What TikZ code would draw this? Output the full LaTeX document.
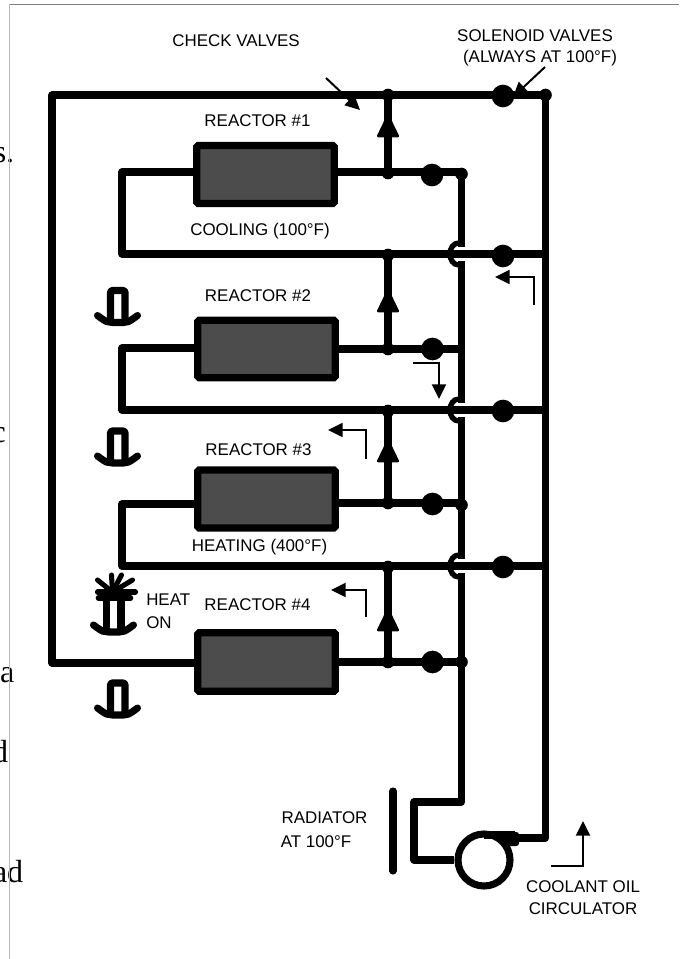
\documentclass[tikz,border=0pt]{standalone}
\usepackage{fontspec}
\setmainfont{Liberation Sans}
\newfontfamily\serifbody{Liberation Serif}
\usetikzlibrary{arrows.meta}
\tikzset{
  x=0.75pt,y=-0.75pt,
  pipe/.style={line width=5.3pt,line join=round,line cap=round},
  reactor/.style={draw=black,fill=black!70,line width=5.4pt,rounded corners=1pt,minimum width=103pt,inner sep=0pt},
  bigdot/.style={circle,fill=black,minimum size=17pt,inner sep=0pt},
  smalldot/.style={circle,fill=black,minimum size=9.5pt,inner sep=0pt},
  lab/.style={font=\fontsize{12.7pt}{14pt}\selectfont,inner sep=0pt,anchor=center},
  body/.style={font=\serifbody\fontsize{24pt}{28pt}\selectfont,inner sep=0pt,anchor=base east},
  flow/.style={line width=1.5pt,-{Triangle[length=11pt,width=10.5pt]}},
  hoparc/.style={line width=4pt,line cap=round},
  heater/.pic={
    \draw[line width=5.3pt,line join=round,rounded corners=1pt] (-7,32) -- (-7,0) -- (7.5,0) -- (7.5,32);
    \draw[line width=5.3pt,line cap=round] (-20,25) .. controls (-11,32) and (-9,32) .. (-5,32) -- (6,32) .. controls (9,32) and (11,32) .. (20,25);
  },
  flame/.pic={
    \draw[line width=5.3pt,line join=round] (-7,34) -- (-7,0) (7.5,0) -- (7.5,34);
    \draw[line width=5.3pt,line cap=round] (-20,27) .. controls (-11,34) and (-9,34) .. (-5,34) -- (6,34) .. controls (9,34) and (11,34) .. (20,27);
    \draw[line width=4.2pt,line cap=round] (-15,0) -- (17,0);
    \foreach \a/\b in {-16/-14,-2/-19,8/-19,19/-14,22/-2,-16/-2}
      \draw[line width=3.8pt,line cap=round] (-1,-6) -- (\a,\b-4);
  },
  checkv/.pic={
    \filldraw[line width=2pt,line join=round] (0,0) -- (-9.7,20) -- (9.7,20) -- cycle;
  },
}
\begin{document}
\begin{tikzpicture}
\useasboundingbox (0,0) rectangle (679,959);

% body text fragments
\node[body] (t1) at (14.5,163) {s.};
\node[body] (t2) at (6,442) {c};
\node[body] (t3) at (14.5,682) {a};
\node[body] (t4) at (8.5,762) {d};
\node[body] (t5) at (23.5,882) {ad};

\draw[black!50,line width=0.9pt] (9,4.5) -- (679,4.5);
\draw[black!28,line width=0.9pt] (9.5,4.5) -- (9.5,959);

% reactors
\node[reactor,minimum height=43.5pt] (R1) at (265.5,174.5) {};
\node[reactor,minimum height=43pt] (R2) at (266.5,349) {};
\node[reactor,minimum height=43.5pt] (R3) at (266.5,499) {};
\node[reactor,minimum height=44pt] (R4) at (266.5,662) {};

% junction points
\coordinate (tl) at (52,95);
\coordinate (bl) at (52,663);
\coordinate (tr) at (545.5,95);
\coordinate (br) at (545.5,838);
\foreach \n/\y in {a/95,b/254,c/410,d/566}{
  \coordinate (v\n) at (388,\y);
  \coordinate (e\n) at (545.5,\y);
}
\foreach \n/\y in {1/172,2/349,3/503,4/662}{
  \coordinate (w\n) at (388,\y);
  \coordinate (x\n) at (461.5,\y);
}
\coordinate (l1t) at (122,172);
\coordinate (l1b) at (122,254);
\coordinate (l2t) at (122,348);
\coordinate (l2b) at (122,410);
\coordinate (l3t) at (122,504);
\coordinate (l3b) at (122,566);
\coordinate (r1) at (461.5,802);
\coordinate (r2) at (414,802);
\coordinate (r3) at (414,860);
\node[circle,draw=black,line width=5.3pt,minimum size=39pt,inner sep=0pt] (pump) at (484,860) {};
\coordinate (po) at (518,838);

% pipes
\draw[pipe] (tl) -- (tr) -- (br) -- (po);
\draw[pipe] (tl) -- (bl) -- (bl-|R4.west);
\draw[pipe] (R1.east|-w1) -- (x1);
\draw[pipe] (R2.east|-w2) -- (x2);
\draw[pipe] (R3.east|-w3) -- (x3);
\draw[pipe] (R4.east|-w4) -- (x4);
\draw[pipe] (R1.west|-l1t) -- (l1t) -- (l1b) -- (eb);
\draw[pipe] (R2.west|-l2t) -- (l2t) -- (l2b) -- (ec);
\draw[pipe] (R3.west|-l3t) -- (l3t) -- (l3b) -- (ed);
\draw[pipe] (va) -- (w1);
\draw[pipe] (vb) -- (w2);
\draw[pipe] (vc) -- (w3);
\draw[pipe] (vd) -- (w4);
\draw[pipe,line cap=butt] (x1) -- ([yshift=5pt]x1|-vb);
\draw[pipe,line cap=butt] ([yshift=-5pt]x1|-vb) -- ([yshift=5pt]x1|-vc);
\draw[pipe,line cap=butt] ([yshift=-5pt]x1|-vc) -- ([yshift=5pt]x1|-vd);
\draw[pipe,line cap=butt] ([yshift=-5pt]x1|-vd) -- (r1) -- (r2) -- (r3) -- (pump.west);

% crossing hops
\foreach \y in {254,410,566}
  \draw[hoparc] (459,\y-11) .. controls (447,\y-11) and (447,\y+11) .. (459,\y+11);

% pump outlet
\draw[line width=5.3pt] (484,835) -- (515,835);
\fill[black,rounded corners=2pt] (503,832) rectangle (519,846);

% radiator
\coordinate (rada) at (393,791);
\coordinate (radb) at (393,871);
\draw[pipe] (rada) -- (radb);

% valves and junction dots
\foreach \n/\y in {a/96,b/256,c/411,d/567}
  \node[bigdot] (s\n) at (503,\y) {};
\foreach \n/\x/\y in {1/432/175,2/432.5/349,3/432.5/504,4/432.5/662}
  \node[bigdot] (m\n) at (\x,\y) {};
\foreach \n/\x/\y in {a/388/95,b/388/255,c/388/411,d/388/567,e/388/173,f/388/349,g/388/503,h/388/662,i/545.5/95,j/461.5/174,k/461.5/505,l/461.5/662}
  \node[smalldot] (d\n) at (\x,\y) {};

% check valves
\pic at (388,116) {checkv};
\pic at (388,291) {checkv};
\pic at (388,441) {checkv};
\pic at (388,610) {checkv};

% heaters
\pic at (117.5,290.5) {heater};
\pic at (117.5,431) {heater};
\pic at (113.5,598) {flame};
\pic at (117.5,683) {heater};

% flow arrows
\coordinate (fa1) at (534,305); \coordinate (fa2) at (534,277); \coordinate (fa3) at (495,277);
\draw[flow] (fa1) -- (fa2) -- (fa3);
\coordinate (fb1) at (413,363); \coordinate (fb2) at (439,363); \coordinate (fb3) at (439,399);
\draw[flow] (fb1) -- (fb2) -- (fb3);
\coordinate (fc1) at (366,459); \coordinate (fc2) at (366,430); \coordinate (fc3) at (328,430);
\draw[flow] (fc1) -- (fc2) -- (fc3);
\coordinate (fd1) at (366,617); \coordinate (fd2) at (366,590); \coordinate (fd3) at (331,590);
\draw[flow] (fd1) -- (fd2) -- (fd3);
\coordinate (fe1) at (551,866); \coordinate (fe2) at (583,866); \coordinate (fe3) at (583,821);
\draw[flow] (fe1) -- (fe2) -- (fe3);

% leader arrows
\coordinate (ca) at (326,78); \coordinate (cb) at (360,110);
\draw[flow] (ca) -- (cb);
\coordinate (sa) at (545,67); \coordinate (sb) at (513,97);
\draw[flow] (sa) -- (sb);

% labels
\node[lab] (n1) at (236,41) {CHECK VALVES};
\node[lab] (n2) at (535,36) {SOLENOID VALVES};
\node[lab] (n3) at (540,58) {(ALWAYS AT 100°F)};
\node[lab] (n4) at (257.5,121) {REACTOR \#1};
\node[lab] (n5) at (260,231) {COOLING (100°F)};
\node[lab] (n6) at (258,296) {REACTOR \#2};
\node[lab] (n7) at (258.5,450) {REACTOR \#3};
\node[lab] (n8) at (259.5,547) {HEATING (400°F)};
\node[lab] (n9) at (257.5,605) {REACTOR \#4};
\node[lab,anchor=west] (n10) at (146,600) {HEAT};
\node[lab,anchor=west] (n11) at (146,623) {ON};
\node[lab] (n12) at (324.5,818) {RADIATOR};
\node[lab] (n13) at (316,842) {AT 100°F};
\node[lab] (n14) at (583,887) {COOLANT OIL};
\node[lab] (n15) at (583,909) {CIRCULATOR};
\end{tikzpicture}
\end{document}
